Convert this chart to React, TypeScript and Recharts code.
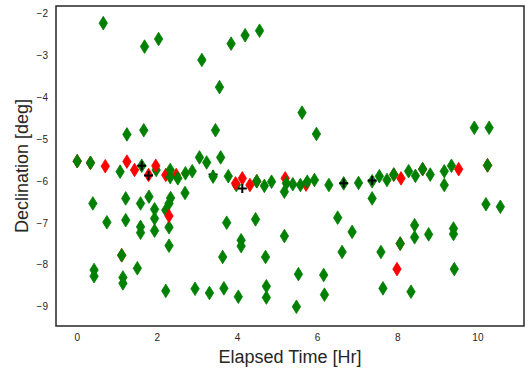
import React from 'react';
import { ScatterChart, Scatter, XAxis, YAxis, ReferenceArea } from 'recharts';

const xTicks = [0, 2, 4, 6, 8, 10];
const yTicks = [-9, -8, -7, -6, -5, -4, -3, -2];
const xDomain = [-0.53, 11.15];
const yDomain = [-9.46, -1.81];

const greenUpper = [
  [0.65, -2.22], [1.68, -2.78], [2.03, -2.6], [3.11, -3.1], [3.55, -3.75], [3.84, -2.71], [4.19, -2.51], [4.55, -2.4],
  [1.24, -4.88], [1.66, -4.78], [3.45, -4.78], [3.58, -5.43], [3.05, -5.43], [3.23, -5.55],
  [5.61, -4.36], [5.97, -4.87], [9.91, -4.72], [10.28, -4.72], [10.24, -5.62],
];

const greenBand = [
  [0, -5.52], [0.33, -5.56], [1.07, -5.77], [1.61, -5.63], [1.97, -5.73], [2.32, -5.73], [2.32, -5.9], [2.51, -5.93],
  [2.7, -5.81], [2.87, -5.76], [3.39, -5.89], [3.77, -5.88], [3.97, -6.09], [4.48, -6.0], [4.67, -6.11], [4.85, -6.01],
  [5.22, -6.05], [5.17, -6.25], [5.38, -6.07], [5.57, -6.09], [5.74, -6.01], [5.92, -5.97], [6.28, -6.09], [6.65, -6.05],
  [7.02, -6.04], [7.36, -6.0], [7.36, -6.41], [7.54, -5.88], [7.73, -5.97], [7.9, -5.84], [8.27, -5.76], [8.44, -5.87],
  [8.62, -5.71], [8.81, -5.84], [9.16, -5.76], [9.16, -6.09], [9.34, -5.63],
];

const greenLower = [
  [0.39, -6.53], [1.21, -6.41], [1.58, -6.53], [1.79, -6.37], [1.93, -6.67], [1.93, -6.89], [1.93, -7.18], [2.21, -6.69],
  [2.29, -6.53], [2.33, -6.4], [2.69, -6.28], [2.29, -7.1], [2.29, -7.54], [0.74, -6.98], [1.21, -6.93], [1.58, -7.09],
  [1.58, -7.23], [1.11, -7.77], [1.5, -8.08], [0.42, -8.12], [0.42, -8.27], [1.14, -8.3], [1.14, -8.44], [2.21, -8.62],
  [2.94, -8.57], [3.3, -8.67], [3.66, -8.56], [4.02, -8.76], [3.73, -6.99], [4.45, -6.91], [4.09, -7.41], [4.09, -7.55],
  [5.17, -7.31], [3.63, -7.81], [4.7, -7.81], [4.72, -8.51], [4.72, -8.78], [5.47, -9.0], [5.52, -8.22],
  [6.5, -6.87], [6.86, -7.21], [6.61, -7.69], [7.58, -7.69], [8.06, -7.49], [8.42, -7.05], [8.42, -7.34], [8.77, -7.27],
  [9.39, -7.13], [9.39, -7.26], [10.2, -6.55], [10.56, -6.61], [9.41, -8.1], [6.15, -8.24], [6.17, -8.71], [7.63, -8.56],
  [8.33, -8.64],
];

const redUnder = [
  [0, -5.52], [0.33, -5.56], [1.11, -7.77], [4.48, -6.0], [7.9, -5.84], [8.06, -7.49], [8.62, -5.71], [10.24, -5.62],
  [2.21, -5.85], [5.71, -6.08], [2.47, -5.85], [5.19, -5.93],
];

const redOver = [
  [0.7, -5.64], [1.24, -5.53], [1.43, -5.73], [1.78, -5.85], [1.96, -5.63], [2.29, -6.83], [3.95, -6.05], [4.12, -5.93],
  [4.31, -6.09], [8.08, -5.93], [9.52, -5.71], [7.98, -8.1],
];

const blackUnder = [[3.39, -5.84]];
const blackPlus = [[1.61, -5.63], [1.78, -5.86], [4.12, -6.17], [6.65, -6.05], [7.36, -5.98]];

const toData = (arr: number[][]) => arr.map(([x, y]) => ({ x, y }));
const greenData = toData([...greenUpper, ...greenBand, ...greenLower]);

const TEXT = '#262626';

const diamond = (color: string) => (props: any) => {
  const { cx, cy } = props;
  if (cx == null || cy == null) return <g />;
  const w = 4.2;
  const h = 6.8;
  return (
    <path
      d={`M${cx},${cy - h}L${cx + w},${cy}L${cx},${cy + h}L${cx - w},${cy}Z`}
      fill={color}
      stroke={color}
      strokeWidth={0.8}
    />
  );
};

const plus = (props: any) => {
  const { cx, cy } = props;
  if (cx == null || cy == null) return <g />;
  const s = 4.5;
  return (
    <path d={`M${cx - s},${cy}H${cx + s}M${cx},${cy - s}V${cy + s}`} stroke="#000" strokeWidth={2} fill="none" />
  );
};

const fmt = (v: number) => String(v).replace('-', '\u2212');

export default function App() {
  return (
    <div style={{ position: 'absolute', left: 0, top: 0, background: '#fff' }}>
      <ScatterChart width={528} height={370} margin={{ top: 6, right: 4, bottom: 0, left: 0 }}>
        <XAxis
          type="number"
          dataKey="x"
          domain={xDomain}
          ticks={xTicks}
          allowDataOverflow
          height={44}
          tickLine={false}
          axisLine={false}
          tickSize={0}
          tickMargin={8}
          tickFormatter={fmt}
          tick={{ fill: TEXT, fontSize: 10, fontFamily: 'Liberation Sans, Arial, sans-serif' }}
          label={{
            value: 'Elapsed Time [Hr]',
            position: 'insideBottom',
            offset: 7,
            fill: TEXT,
            fontSize: 18,
            fontFamily: 'Liberation Sans, Arial, sans-serif',
          }}
        />
        <YAxis
          type="number"
          dataKey="y"
          domain={yDomain}
          ticks={yTicks}
          allowDataOverflow
          width={56}
          tickLine={false}
          axisLine={false}
          tickSize={0}
          tickMargin={8}
          tickFormatter={fmt}
          tick={{ fill: TEXT, fontSize: 10, fontFamily: 'Liberation Sans, Arial, sans-serif' }}
          label={{
            content: () => (
              <text
                x={28}
                y={166}
                transform="rotate(-90 28 166)"
                textAnchor="middle"
                fill={TEXT}
                fontSize={18}
                fontFamily="Liberation Sans, Arial, sans-serif"
              >
                Declination [deg]
              </text>
            ),
          }}
        />
        <Scatter data={toData(redUnder)} shape={diamond('#ff0000')} isAnimationActive={false} />
        <Scatter data={toData(blackUnder)} shape={plus} isAnimationActive={false} />
        <Scatter data={greenData} shape={diamond('#008000')} isAnimationActive={false} />
        <Scatter data={toData(redOver)} shape={diamond('#ff0000')} isAnimationActive={false} />
        <Scatter data={toData(blackPlus)} shape={plus} isAnimationActive={false} />
        <ReferenceArea
          x1={xDomain[0]}
          x2={xDomain[1]}
          y1={yDomain[0]}
          y2={yDomain[1]}
          fill="none"
          fillOpacity={0}
          stroke={TEXT}
          strokeWidth={1.5}
          ifOverflow="visible"
        />
      </ScatterChart>
    </div>
  );
}
